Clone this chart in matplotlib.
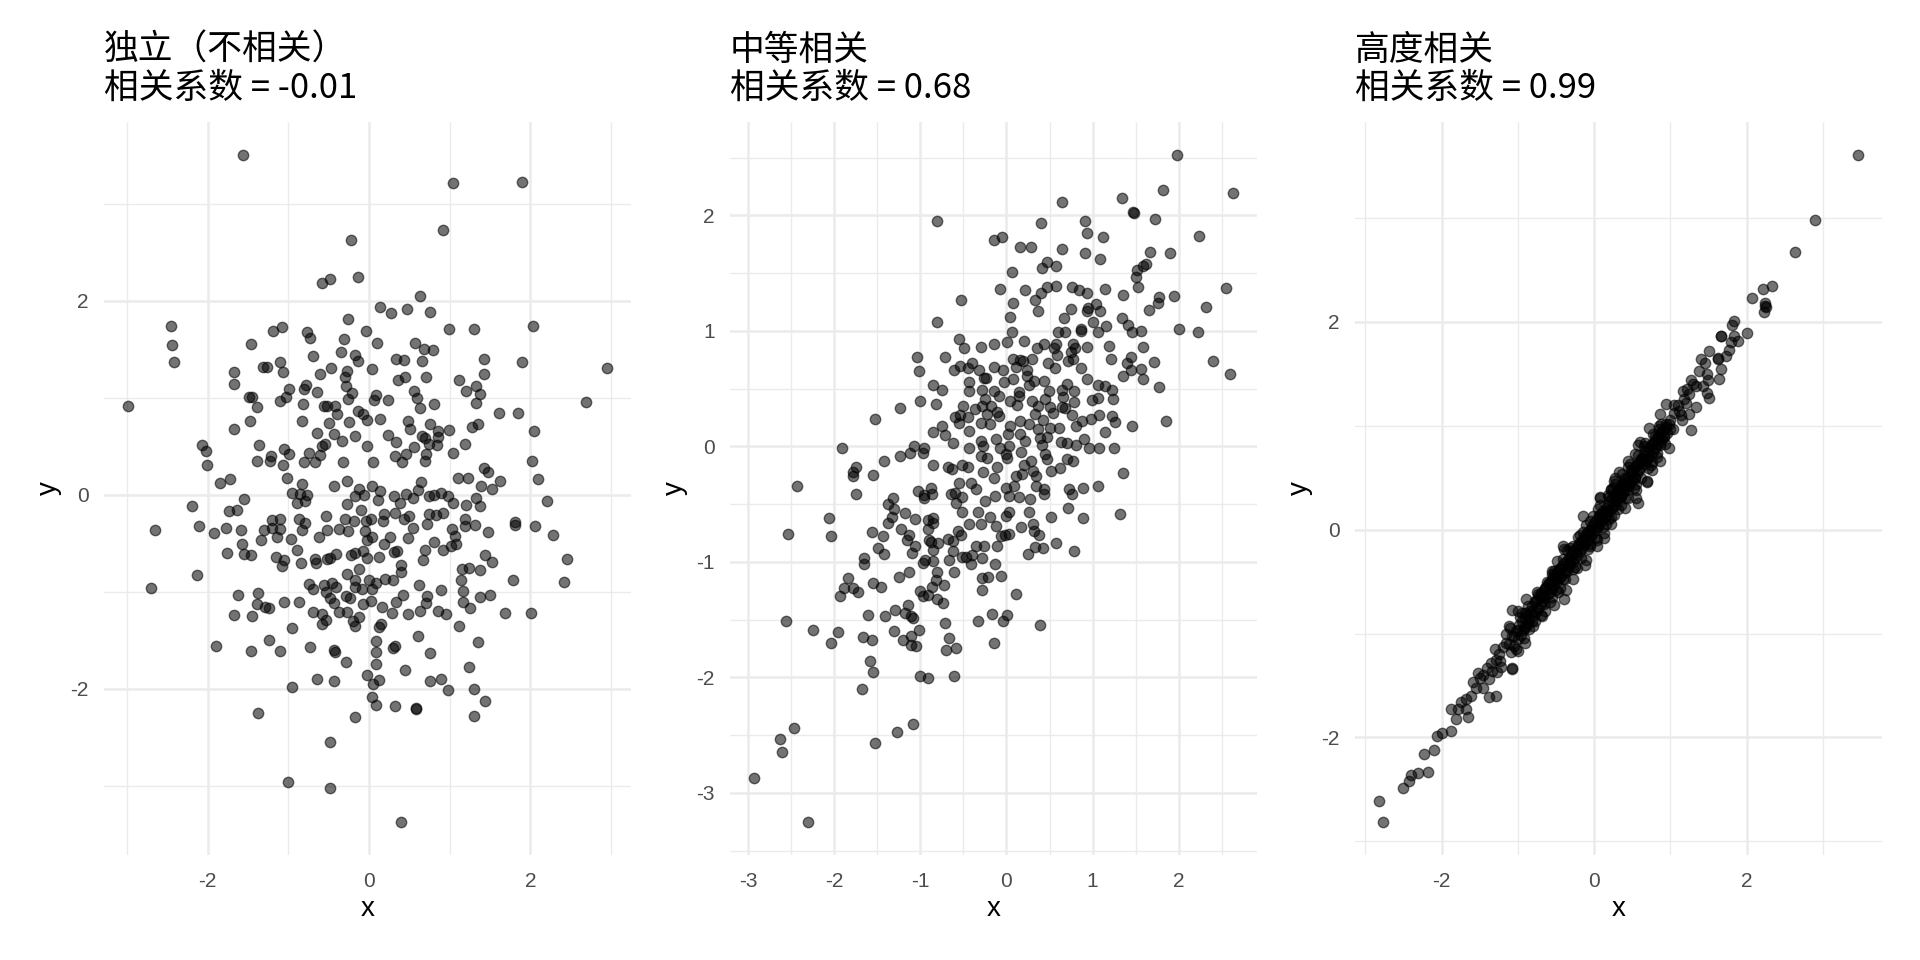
import numpy as np
import matplotlib.pyplot as plt

# Titulos y coeficientes de cada panel
titulos = ["独立（不相关）", "中等相关", "高度相关"]
coefs = ["-0.01", "0.68", "0.99"]

# Panel 1: independiente (x, y)
puntos_indep = [
    (-1.56, 3.50), (1.04, 3.21), (1.89, 3.23), (0.92, 2.73), (-0.22, 2.63), (-0.58, 2.18),
    (-0.48, 2.23), (-0.14, 2.25), (0.63, 2.05), (0.14, 1.94), (0.27, 1.87), (0.47, 1.92),
    (0.76, 1.88), (-0.26, 1.81), (-2.46, 1.74), (-2.44, 1.54), (-2.42, 1.37), (-2.99, 0.92),
    (-1.19, 1.69), (-1.08, 1.73), (-0.77, 1.68), (-0.73, 1.62), (-0.04, 1.69), (0.99, 1.71),
    (1.30, 1.71), (2.03, 1.74), (-1.46, 1.55), (-0.31, 1.61), (0.10, 1.57), (0.57, 1.57),
    (0.68, 1.50), (0.79, 1.49), (-0.35, 1.47), (-0.18, 1.44), (-0.14, 1.38), (-0.70, 1.43),
    (0.65, 1.38), (0.33, 1.40), (0.43, 1.39), (1.43, 1.40), (1.89, 1.37), (2.95, 1.31),
    (-1.11, 1.37), (-1.67, 1.27), (-1.31, 1.32), (-1.27, 1.32), (-1.07, 1.27), (-0.61, 1.25),
    (-0.47, 1.31), (-0.27, 1.28), (0.04, 1.30), (-0.30, 1.21), (0.36, 1.18), (0.44, 1.21),
    (0.71, 1.21), (1.12, 1.18), (1.42, 1.25), (-1.67, 1.14), (-0.78, 1.13), (-0.81, 1.09),
    (-0.99, 1.09), (-0.64, 1.06), (-0.29, 1.12), (-0.21, 1.05), (0.56, 1.07), (1.20, 1.07),
    (1.32, 1.12), (1.37, 1.04), (-1.49, 1.01), (-1.45, 1.01), (-1.03, 1.01), (-1.10, 0.97),
    (-1.39, 0.91), (-0.82, 0.94), (-0.56, 0.92), (-0.52, 0.92), (-0.42, 0.92), (-0.26, 0.99),
    (0.06, 0.98), (0.09, 1.03), (0.23, 0.98), (0.59, 1.00), (0.63, 0.89), (0.81, 0.94),
    (1.33, 0.95), (1.61, 0.84), (1.84, 0.84), (2.69, 0.96), (-1.48, 0.76), (-1.67, 0.68),
    (-0.83, 0.76), (-0.40, 0.83), (-0.14, 0.86), (-0.08, 0.83), (-0.03, 0.77), (0.14, 0.78),
    (-0.50, 0.74), (-0.25, 0.75), (0.48, 0.76), (0.51, 0.68), (0.75, 0.73), (0.86, 0.66),
    (0.99, 0.67), (1.28, 0.70), (1.35, 0.73), (2.04, 0.66), (-0.65, 0.64), (-0.43, 0.63),
    (-0.17, 0.61), (0.24, 0.62), (0.65, 0.61), (0.69, 0.59), (0.86, 0.60), (-2.07, 0.51),
    (-2.02, 0.45), (-2.01, 0.31), (-1.37, 0.51), (-1.05, 0.47), (-0.74, 0.43), (-0.58, 0.50),
    (-0.55, 0.52), (-0.34, 0.55), (-0.03, 0.50), (0.33, 0.54), (0.56, 0.49), (0.74, 0.52),
    (0.84, 0.51), (1.04, 0.43), (1.19, 0.52), (2.02, 0.35), (-1.39, 0.35), (-1.23, 0.35),
    (-1.22, 0.40), (-0.99, 0.42), (-0.81, 0.34), (-0.67, 0.34), (-0.61, 0.41), (-0.32, 0.34),
    (0.05, 0.34), (0.32, 0.40), (0.41, 0.34), (0.46, 0.42), (0.70, 0.42), (0.69, 0.35),
    (1.43, 0.28), (1.47, 0.23), (-1.07, 0.31),
    (-1.85, 0.12), (-1.72, 0.16), (-1.02, 0.17), (-0.95, 0.02), (-0.86, 0.01), (-0.77, 0.00),
    (-0.79, -0.06), (-0.83, 0.11), (-0.89, -0.08), (-0.43, 0.09), (-0.28, 0.14), (-0.27, -0.09),
    (-0.12, 0.06), (-0.17, -0.01), (-0.06, 0.00), (0.04, 0.09), (0.11, -0.05), (0.14, 0.04),
    (0.31, -0.01), (0.38, -0.08), (0.46, 0.01), (0.55, -0.03), (0.61, 0.05), (0.64, 0.13),
    (0.74, -0.01), (0.81, 0.00), (0.89, 0.02), (0.98, -0.01), (1.04, -0.08), (1.10, 0.17),
    (1.23, 0.17), (1.20, -0.10), (1.32, -0.03), (1.39, 0.09), (1.52, 0.06), (1.38, -0.12),
    (1.62, 0.14), (2.09, 0.16), (2.20, -0.06), (-1.55, -0.04), (-2.19, -0.12), (-2.65, -0.36),
    (-2.70, -0.96), (-2.11, -0.32), (-1.92, -0.39), (-1.78, -0.34), (-1.74, -0.17), (-1.64, -0.16),
    (-1.59, -0.36), (-1.57, -0.51), (-1.76, -0.60), (-1.55, -0.61), (-1.47, -0.62), (-2.13, -0.83),
    (-1.34, -0.47), (-1.30, -0.36), (-1.20, -0.26), (-1.11, -0.25), (-1.20, -0.34), (-1.11, -0.35),
    (-1.14, -0.43), (-0.97, -0.46), (-0.87, -0.25), (-0.80, -0.29), (-0.83, -0.36), (-0.89, -0.57),
    (-1.16, -0.64), (-1.08, -0.73), (-1.05, -0.67), (-0.85, -0.70), (-0.67, -0.66), (-0.66, -0.70),
    (-0.62, -0.43), (-0.54, -0.22), (-0.52, -0.36), (-0.52, -0.66), (-0.48, -0.65), (-0.41, -0.61),
    (-0.37, -0.35), (-0.30, -0.25), (-0.26, -0.37), (-0.19, -0.27), (-0.10, -0.16), (-0.04, -0.27),
    (0.02, -0.25), (-0.05, -0.37), (0.04, -0.44), (-0.03, -0.47), (-0.23, -0.62), (-0.17, -0.60),
    (-0.07, -0.58), (-0.03, -0.65), (0.12, -0.64), (0.17, -0.27), (0.19, -0.20), (0.32, -0.19),
    (0.26, -0.43), (0.18, -0.51), (0.31, -0.59), (0.35, -0.58), (0.43, -0.25), (0.49, -0.22),
    (0.54, -0.34), (0.48, -0.45), (0.72, -0.30), (0.74, -0.20), (0.83, -0.21), (0.92, -0.19),
    (1.03, -0.35), (1.07, -0.42), (1.08, -0.51), (1.01, -0.53), (0.81, -0.49), (0.69, -0.57),
    (0.67, -0.67), (0.91, -0.57), (1.19, -0.25), (1.19, -0.32), (1.31, -0.31), (1.47, -0.38),
    (1.81, -0.28), (1.81, -0.31), (2.06, -0.32), (2.28, -0.41), (1.44, -0.62), (1.52, -0.69),
    (2.45, -0.66), (2.42, -0.90), (1.78, -0.88), (1.38, -0.78), (1.24, -0.75), (1.15, -0.76),
    (1.14, -0.88), (1.17, -0.99), (1.16, -1.10), (1.25, -1.17), (1.37, -1.05), (1.50, -1.03),
    (1.69, -1.22), (2.01, -1.22), (0.40, -0.72), (0.40, -0.80), (0.30, -0.88), (0.20, -0.87),
    (0.09, -0.91), (0.00, -0.88), (-0.12, -0.77), (-0.27, -0.82), (-0.17, -0.88), (-0.09, -0.97),
    (0.04, -0.97), (-0.17, -0.95), (-0.41, -0.95), (-0.46, -0.91), (-0.56, -0.93), (-0.74, -0.92),
    (-0.70, -0.97), (-0.53, -1.00), (-0.48, -1.06), (-0.43, -1.12), (-0.29, -1.04), (-0.24, -1.06),
    (-0.08, -1.13), (0.02, -1.09), (0.16, -1.16), (0.33, -1.11), (0.42, -1.03), (0.62, -0.93),
    (0.72, -1.04), (0.70, -1.12), (0.89, -0.98), (0.63, -1.20), (0.86, -1.20), (0.95, -1.23),
    (1.11, -1.35), (0.48, -1.23), (0.28, -1.22), (-0.37, -1.21), (-0.27, -1.21), (-0.12, -1.26),
    (-0.20, -1.30), (-0.17, -1.35), (0.12, -1.36), (0.15, -1.33), (-0.70, -1.21), (-0.58, -1.23),
    (-0.53, -1.29), (-0.58, -1.33), (-0.87, -1.11), (-1.05, -1.11), (-0.96, -1.37), (-1.29, -1.16),
    (-1.24, -1.17), (-1.39, -1.13), (-1.38, -1.01), (-1.63, -1.03), (-1.68, -1.24), (-1.45, -1.25),
    (-1.90, -1.56), (-1.46, -1.61), (-1.24, -1.50), (-1.10, -1.61), (-0.73, -1.57), (-0.43, -1.60),
    (-0.42, -1.62), (-0.29, -1.72), (0.08, -1.51), (0.09, -1.62), (0.29, -1.58), (0.32, -1.56),
    (0.08, -1.74), (0.61, -1.46), (0.76, -1.63), (1.35, -1.52), (1.24, -1.78), (0.45, -1.81),
    (-0.03, -1.86), (0.12, -1.91), (0.05, -1.95), (-0.64, -1.90), (-0.44, -1.92), (-0.95, -1.98),
    (0.75, -1.92), (0.89, -1.90), (0.98, -2.01), (1.30, -2.00), (1.44, -2.13), (1.30, -2.28),
    (0.03, -2.08), (0.08, -2.17), (0.32, -2.18), (0.58, -2.20), (0.58, -2.21), (-0.17, -2.29),
    (-1.38, -2.25), (-0.49, -2.55), (-1.00, -2.96), (-0.48, -3.02), (0.39, -3.37),
]

# Panel 2: correlacion media
puntos_medio = [
    (1.98, 2.52), (1.82, 2.22), (2.63, 2.19), (1.34, 2.15), (0.65, 2.12), (1.47, 2.03),
    (1.48, 2.02), (1.72, 1.97), (-0.80, 1.95), (0.40, 1.93), (0.91, 1.95), (0.94, 1.85),
    (1.12, 1.81), (2.24, 1.82), (-0.14, 1.79), (-0.05, 1.81), (0.16, 1.73), (0.29, 1.73),
    (0.64, 1.71), (0.91, 1.67), (1.09, 1.62), (1.67, 1.68), (1.90, 1.67), (0.47, 1.60),
    (0.41, 1.54), (0.58, 1.56), (1.59, 1.56), (1.62, 1.58), (1.52, 1.53), (1.50, 1.47),
    (1.53, 1.38), (0.07, 1.51), (-0.07, 1.36), (0.21, 1.35), (0.40, 1.33), (0.47, 1.38),
    (0.57, 1.39), (0.76, 1.38), (0.84, 1.35), (0.93, 1.33), (1.14, 1.36), (1.35, 1.31),
    (1.77, 1.29), (1.76, 1.24), (1.94, 1.30), (2.55, 1.37), (-0.53, 1.27), (0.08, 1.24),
    (0.33, 1.27), (0.37, 1.17), (0.75, 1.19), (0.95, 1.20), (1.04, 1.23), (0.94, 1.17),
    (1.09, 1.17), (1.65, 1.18), (2.32, 1.21), (0.04, 1.12), (0.67, 1.11), (1.00, 1.08),
    (1.34, 1.11), (1.41, 1.05), (-0.80, 1.08), (1.16, 1.04), (0.87, 1.02), (0.86, 1.00),
    (0.60, 0.99), (0.68, 0.99), (0.06, 0.99), (1.06, 0.99), (1.46, 0.99), (1.56, 1.00),
    (2.00, 1.02), (2.22, 0.99), (-0.55, 0.93), (-0.49, 0.85), (-0.29, 0.86), (-0.15, 0.89),
    (0.01, 0.90), (0.20, 0.91), (0.44, 0.89), (0.58, 0.89), (0.77, 0.89), (0.80, 0.85),
    (0.55, 0.85), (0.36, 0.85), (0.94, 0.86), (1.19, 0.87), (1.59, 0.86), (-1.04, 0.77),
    (-0.71, 0.77), (0.59, 0.79), (0.75, 0.82), (0.77, 0.76), (0.72, 0.74), (0.08, 0.76),
    (0.16, 0.75), (0.19, 0.74), (0.30, 0.76), (0.48, 0.72), (0.56, 0.68), (1.21, 0.76),
    (1.44, 0.77), (1.40, 0.72), (1.44, 0.66), (1.56, 0.67), (1.71, 0.73), (2.40, 0.74),
    (2.59, 0.63), (-1.01, 0.65), (-0.61, 0.66), (-0.54, 0.70), (-0.40, 0.72), (-0.45, 0.68),
    (-0.32, 0.66), (-0.24, 0.59), (-0.14, 0.69), (-0.04, 0.66), (0.11, 0.69), (0.24, 0.66),
    (0.24, 0.61), (0.87, 0.68), (0.94, 0.58), (1.35, 0.61), (1.59, 0.58), (1.77, 0.51),
    (-0.85, 0.53), (-0.75, 0.49), (-0.43, 0.56), (-0.26, 0.59), (-0.03, 0.56), (0.08, 0.58),
    (0.32, 0.57), (0.44, 0.57), (0.26, 0.53), (1.06, 0.53), (1.14, 0.52), (1.23, 0.49),
    (1.24, 0.41), (-0.44, 0.48), (-0.28, 0.49), (-0.14, 0.48), (-0.09, 0.44), (0.15, 0.47),
    (0.15, 0.44), (0.49, 0.48), (0.70, 0.54), (0.64, 0.49), (0.66, 0.43), (0.78, 0.48),
    (-0.25, 0.41), (0.04, 0.39), (0.12, 0.36), (0.30, 0.39), (0.37, 0.35), (0.45, 0.41),
    (0.79, 0.38), (0.99, 0.40), (1.06, 0.42), (-1.00, 0.39), (-0.82, 0.37), (-1.23, 0.33),
    (-0.50, 0.35), (-0.36, 0.32), (-0.28, 0.35), (-0.18, 0.35), (-0.11, 0.30), (0.51, 0.34),
    (0.64, 0.34), (0.54, 0.29), (0.68, 0.33), (-1.52, 0.24), (-0.60, 0.25), (-0.54, 0.27),
    (-0.45, 0.25), (-0.22, 0.28), (-0.09, 0.26), (0.33, 0.28), (0.43, 0.23), (0.76, 0.27),
    (0.88, 0.22), (0.98, 0.24), (1.08, 0.27), (1.23, 0.26), (1.26, 0.21), (1.46, 0.18),
    (1.85, 0.22), (-0.75, 0.18), (-0.85, 0.12), (-0.71, 0.10), (-0.55, 0.20), (-0.44, 0.13),
    (-0.30, 0.20), (-0.19, 0.19), (0.04, 0.18), (0.16, 0.22), (0.26, 0.19), (0.37, 0.15),
    (0.51, 0.16), (0.61, 0.16), (0.81, 0.18), (1.14, 0.12), (-0.62, 0.03), (-1.07, 0.00),
    (-0.96, -0.01), (-1.91, -0.01), (-0.29, 0.05), (-0.27, 0.00), (-0.12, 0.06), (0.02, 0.11),
    (0.16, 0.11), (0.22, 0.05), (0.39, 0.07), (0.41, 0.01), (0.47, 0.08), (0.63, 0.04),
    (0.70, 0.03), (0.81, 0.01), (0.90, 0.06), (0.96, -0.01), (1.08, -0.01), (1.25, -0.01),
    (-0.44, -0.01), (-0.07, -0.01), (0.03, 0.00), (-1.24, -0.08), (-1.12, -0.06), (-0.97, -0.06),
    (-0.85, -0.16), (-1.42, -0.13), (-1.75, -0.18), (-1.78, -0.22), (-1.78, -0.26), (-1.55, -0.25),
    (-0.68, -0.18), (-0.63, -0.20), (-0.51, -0.16), (-0.45, -0.18), (-0.30, -0.08), (-0.23, -0.10),
    (-0.27, -0.22), (-0.11, -0.18), (0.00, -0.07), (0.01, -0.10), (0.17, -0.05), (0.20, -0.16),
    (0.28, -0.13), (0.18, -0.24), (0.31, -0.21), (0.45, -0.07), (0.47, -0.11), (0.52, -0.21),
    (0.62, -0.19), (0.70, -0.11), (0.77, -0.13), (1.35, -0.23), (-2.43, -0.34), (-0.14, -0.27),
    (0.11, -0.26), (0.34, -0.26),
    (-1.74, -0.41), (-1.03, -0.39), (-0.96, -0.42), (-0.88, -0.36), (-0.86, -0.41), (-0.96, -0.45),
    (-0.64, -0.41), (-0.60, -0.40), (-0.55, -0.32), (-0.51, -0.44), (-0.41, -0.32), (-0.35, -0.37),
    (-0.58, -0.49), (-0.25, -0.47), (-0.13, -0.43), (0.00, -0.36), (0.03, -0.43), (0.09, -0.34),
    (0.15, -0.44), (0.27, -0.46), (0.34, -0.34), (0.44, -0.37), (0.44, -0.41), (0.73, -0.37),
    (0.76, -0.41), (0.89, -0.36), (1.06, -0.34), (-1.37, -0.50), (-1.32, -0.45), (-1.31, -0.54),
    (-2.06, -0.62), (-2.54, -0.76), (-2.04, -0.78), (-1.33, -0.61), (-1.38, -0.66), (-1.18, -0.58),
    (-1.06, -0.63), (-0.91, -0.64), (-0.85, -0.62), (-0.85, -0.66), (-0.51, -0.57), (-0.33, -0.57),
    (-0.30, -0.67), (-0.19, -0.61), (-0.12, -0.69), (-0.01, -0.60), (0.03, -0.57), (-0.43, -0.67),
    (0.17, -0.70), (0.26, -0.57), (0.31, -0.67), (0.32, -0.73), (0.38, -0.77), (0.52, -0.61),
    (0.71, -0.53), (0.89, -0.62), (1.32, -0.59), (-1.56, -0.74), (-1.43, -0.78), (-1.49, -0.88),
    (-1.42, -0.93), (-1.22, -0.72), (-1.13, -0.77), (-1.15, -0.81), (-1.06, -0.86), (-1.10, -0.92),
    (-0.91, -0.72), (-0.90, -0.81), (-0.87, -0.83), (-0.79, -0.84), (-0.85, -0.90), (-0.68, -0.80),
    (-0.62, -0.82), (-0.56, -0.73), (-0.53, -0.77), (-0.62, -0.91), (-0.95, -0.98), (-0.97, -1.01),
    (-0.85, -0.99), (-0.67, -0.98), (-0.52, -0.96), (-0.47, -0.96), (-0.40, -0.94), (-0.41, -1.02),
    (-0.35, -0.86), (-0.26, -0.86), (-0.28, -0.97), (-0.11, -0.86), (-0.06, -0.78), (-0.02, -0.77),
    (0.03, -0.76), (0.25, -0.93), (0.33, -0.87), (0.43, -0.88), (0.58, -0.84), (0.79, -0.91),
    (-1.65, -0.97), (-1.65, -1.02), (-1.84, -1.14), (-1.89, -1.23), (-1.93, -1.30), (-1.78, -1.23),
    (-1.72, -1.26), (-1.55, -1.18), (-1.46, -1.22), (-1.25, -1.13), (-1.13, -1.09), (-1.00, -1.25),
    (-0.97, -1.30), (-0.91, -1.29), (-0.86, -1.22), (-0.82, -1.16), (-0.80, -1.09), (-0.73, -1.20),
    (-0.81, -1.32), (-0.74, -1.36), (-0.61, -1.09), (-0.28, -1.14), (-0.21, -1.13), (-0.28, -1.24),
    (-0.13, -1.02), (-0.06, -1.12), (0.11, -1.28), (-1.61, -1.46), (-1.41, -1.47), (-1.29, -1.42),
    (-1.18, -1.44), (-1.14, -1.37), (-1.11, -1.47), (-1.08, -1.49), (-2.56, -1.51), (-2.24, -1.59),
    (-1.96, -1.61), (-2.04, -1.70), (-1.66, -1.65), (-1.56, -1.68), (-1.31, -1.60), (-1.20, -1.68),
    (-1.11, -1.64), (-1.02, -1.59), (-1.11, -1.72), (-1.05, -1.73), (-0.71, -1.53), (-0.67, -1.66),
    (-0.70, -1.76), (-0.58, -1.75), (-0.33, -1.51), (-0.17, -1.45), (-0.04, -1.51), (0.01, -1.46),
    (-0.14, -1.70), (0.39, -1.55), (-1.58, -1.86), (-1.55, -1.95), (-1.00, -1.99), (-0.91, -2.01),
    (-0.61, -1.99), (-1.68, -2.10), (-1.09, -2.40), (-1.27, -2.47), (-1.52, -2.57), (-2.46, -2.44),
    (-2.63, -2.53), (-2.60, -2.65), (-2.93, -2.87), (-2.30, -3.25),
]

# Panel 3: correlacion alta
puntos_alto = [
    (3.46, 3.60), (2.90, 2.98), (2.63, 2.67), (2.33, 2.34), (2.22, 2.31), (2.07, 2.23),
    (2.24, 2.18), (2.24, 2.15), (2.25, 2.14), (2.23, 2.09), (1.84, 2.01), (1.81, 1.97),
    (2.00, 1.89), (1.66, 1.86), (1.67, 1.86), (1.84, 1.86), (1.88, 1.81), (1.79, 1.80),
    (1.51, 1.72), (1.77, 1.73), (1.73, 1.67), (1.62, 1.65), (1.63, 1.64), (1.40, 1.64),
    (1.45, 1.60), (1.66, 1.54), (1.64, 1.45), (1.37, 1.53), (1.48, 1.50), (1.49, 1.44),
    (1.27, 1.44), (1.34, 1.38), (1.43, 1.38), (1.16, 1.33), (1.25, 1.30), (1.51, 1.27),
    (1.48, 1.31), (1.18, 1.26), (0.94, 1.21), (1.05, 1.20), (1.33, 1.18), (1.11, 1.14),
    (0.87, 1.11), (1.14, 1.10), (1.25, 1.11), (1.00, 1.05), (0.94, 1.02), (1.27, 0.96),
    (0.72, 0.98), (0.85, 0.97), (1.03, 0.97), (0.80, 0.90), (0.91, 0.89), (0.60, 0.84),
    (0.76, 0.82), (0.87, 0.81), (0.98, 0.78), (0.58, 0.81), (0.67, 0.76), (0.82, 0.74),
    (0.53, 0.73), (0.44, 0.66), (0.62, 0.68), (0.76, 0.65), (0.87, 0.66), (0.55, 0.62),
    (0.76, 0.57), (0.69, 0.47), (0.49, 0.57), (0.33, 0.55), (0.28, 0.50), (0.40, 0.50),
    (0.53, 0.50), (0.26, 0.47), (0.37, 0.44), (0.55, 0.38), (0.22, 0.39), (0.31, 0.38),
    (0.44, 0.38), (0.08, 0.31), (0.19, 0.31), (0.35, 0.31), (0.55, 0.30),
    (0.69, 0.46), (0.57, 0.26), (0.40, 0.42), (0.35, 0.34), (0.44, 0.30), (0.28, 0.24),
    (0.40, 0.21), (0.22, 0.38), (0.08, 0.30), (0.26, 0.14), (0.19, 0.10), (0.22, 0.05),
    (0.15, 0.18), (0.06, 0.14), (-0.15, 0.13), (-0.05, 0.08), (0.04, 0.02), (0.13, -0.03),
    (0.13, -0.08), (-0.08, -0.02), (-0.19, -0.05), (0.04, -0.10), (0.04, -0.16), (-0.05, -0.14),
    (-0.17, -0.13), (-0.28, -0.16), (-0.41, -0.16), (-0.39, -0.19), (-0.23, -0.22), (-0.10, -0.29),
    (-0.12, -0.34), (-0.32, -0.29), (-0.48, -0.30), (-0.23, -0.37), (-0.35, -0.40), (-0.46, -0.38),
    (-0.55, -0.43), (-0.28, -0.48), (-0.41, -0.48), (-0.50, -0.48), (-0.59, -0.51), (-0.37, -0.58),
    (-0.50, -0.58), (-0.64, -0.56), (-0.39, -0.67), (-0.55, -0.65), (-0.68, -0.64), (-0.52, -0.73),
    (-0.66, -0.72), (-0.77, -0.69), (-0.89, -0.67), (-0.68, -0.83), (-0.80, -0.78), (-0.91, -0.80),
    (-1.07, -0.77), (-1.00, -0.78), (-0.77, -0.88), (-0.91, -0.93), (-1.11, -0.93), (-1.00, -0.97),
    (-0.91, -1.09), (-1.05, -1.02), (-1.16, -1.09), (-1.20, -1.13), (-1.00, -1.17), (-1.09, -1.18),
    (-1.29, -1.25), (-1.23, -1.26), (-1.07, -1.33), (-1.08, -1.34), (-1.27, -1.37), (-1.34, -1.36),
    (-1.38, -1.44), (-1.50, -1.43), (-1.59, -1.47), (-1.45, -1.52), (-1.28, -1.60), (-1.38, -1.61),
    (-1.61, -1.60), (-1.68, -1.63), (-1.74, -1.66), (-1.79, -1.73), (-1.88, -1.73), (-1.68, -1.73),
    (-1.81, -1.82), (-1.65, -1.80), (-1.88, -1.94), (-2.00, -1.96), (-2.06, -1.99), (-2.10, -2.12),
    (-2.23, -2.16), (-2.18, -2.33), (-2.31, -2.34), (-2.40, -2.36), (-2.42, -2.42), (-2.50, -2.49),
    (-2.82, -2.61), (-2.77, -2.81),
    # nucleo denso de la banda
    (-1.12, -1.10), (-1.08, -1.02), (-1.05, -1.12), (-1.03, -0.98), (-1.00, -1.05), (-0.98, -0.92),
    (-0.96, -1.01), (-0.94, -0.88), (-0.93, -0.97), (-0.91, -0.85), (-0.90, -0.95), (-0.88, -0.82),
    (-0.87, -0.91), (-0.85, -0.86), (-0.84, -0.78), (-0.82, -0.88), (-0.81, -0.74), (-0.79, -0.82),
    (-0.78, -0.70), (-0.76, -0.79), (-0.75, -0.68), (-0.73, -0.76), (-0.72, -0.64), (-0.70, -0.72),
    (-0.69, -0.61), (-0.67, -0.69), (-0.66, -0.58), (-0.64, -0.66), (-0.63, -0.55), (-0.61, -0.62),
    (-0.60, -0.52), (-0.58, -0.60), (-0.57, -0.49), (-0.55, -0.57), (-0.54, -0.46), (-0.52, -0.53),
    (-0.51, -0.44), (-0.49, -0.50), (-0.48, -0.41), (-0.46, -0.47), (-0.45, -0.38), (-0.43, -0.45),
    (-0.42, -0.35), (-0.40, -0.42), (-0.39, -0.32), (-0.37, -0.39), (-0.36, -0.30), (-0.34, -0.36),
    (-0.33, -0.27), (-0.31, -0.33), (-0.30, -0.24), (-0.28, -0.30), (-0.27, -0.21), (-0.25, -0.27),
    (-0.24, -0.18), (-0.22, -0.24), (-0.21, -0.15), (-0.19, -0.21), (-0.18, -0.12), (-0.16, -0.18),
    (-0.15, -0.09), (-0.13, -0.15), (-0.12, -0.06), (-0.10, -0.12), (-0.09, -0.03), (-0.07, -0.09),
    (-0.06, 0.00), (-0.04, -0.06), (-0.03, 0.03), (-0.01, -0.03), (0.00, 0.06), (0.02, 0.00),
    (0.03, 0.09), (0.05, 0.03), (0.06, 0.12), (0.08, 0.06), (0.09, 0.15), (0.11, 0.09),
    (0.12, 0.18), (0.14, 0.12), (0.15, 0.21), (0.17, 0.15), (0.18, 0.24), (0.20, 0.18),
    (0.21, 0.27), (0.23, 0.21), (0.24, 0.30), (0.26, 0.24), (0.27, 0.33), (0.29, 0.27),
    (0.30, 0.36), (0.32, 0.30), (0.33, 0.39), (0.35, 0.33), (0.36, 0.42), (0.38, 0.36),
    (0.39, 0.45), (0.41, 0.39), (0.42, 0.48), (0.44, 0.42), (0.45, 0.51), (0.47, 0.45),
    (0.48, 0.54), (0.50, 0.48), (0.51, 0.57), (0.53, 0.51), (0.54, 0.60), (0.56, 0.54),
    (0.57, 0.63), (0.59, 0.57), (0.60, 0.66), (0.62, 0.60), (0.63, 0.69), (0.65, 0.63),
    (0.66, 0.72), (0.68, 0.66), (0.69, 0.75), (0.71, 0.69), (0.72, 0.78), (0.74, 0.72),
    (0.75, 0.81), (0.77, 0.75), (0.78, 0.84), (0.80, 0.78), (0.81, 0.87), (0.83, 0.81),
    (0.84, 0.90), (0.86, 0.84), (0.87, 0.93), (0.89, 0.87), (0.90, 0.96), (0.92, 0.90),
    (0.94, 0.99), (0.96, 0.93), (0.98, 1.02), (1.00, 0.97),
    (-0.95, -0.80), (-0.85, -0.96), (-0.75, -0.60), (-0.65, -0.78), (-0.55, -0.40), (-0.45, -0.56),
    (-0.35, -0.20), (-0.25, -0.36), (-0.15, -0.02), (-0.05, -0.16), (0.05, 0.20), (0.15, 0.05),
    (0.25, 0.40), (0.35, 0.24), (0.45, 0.60), (0.55, 0.44), (0.65, 0.80), (0.75, 0.62),
    (0.85, 1.00), (-1.15, -1.00), (-1.25, -1.20), (-1.35, -1.28), (-1.45, -1.40), (1.10, 1.20),
    (1.20, 1.22), (1.30, 1.40),
    (-1.10, -0.95), (-1.02, -1.15), (-0.97, -0.84), (-0.92, -1.04), (-0.86, -0.74), (-0.80, -0.93),
    (-0.74, -0.62), (-0.70, -0.82), (-0.62, -0.50), (-0.58, -0.70), (-0.52, -0.40), (-0.47, -0.60),
    (-0.41, -0.28), (-0.38, -0.48), (-0.32, -0.18), (-0.27, -0.38), (-0.21, -0.07), (-0.17, -0.27),
    (-0.11, 0.04), (-0.08, -0.19), (-0.02, 0.13), (0.03, -0.08), (0.08, 0.24), (0.12, 0.02),
    (0.18, 0.33), (0.22, 0.12), (0.28, 0.44), (0.31, 0.20), (0.37, 0.53), (0.41, 0.30),
    (0.47, 0.63), (0.52, 0.40), (0.57, 0.72), (0.61, 0.50), (0.67, 0.83), (0.71, 0.59),
    (0.77, 0.92), (0.82, 0.70), (0.88, 1.02), (0.93, 0.82), (-1.30, -1.15), (-1.40, -1.33),
    (-1.22, -1.32), (-1.52, -1.38), (-1.55, -1.52), (1.05, 1.12), (1.15, 1.05), (1.22, 1.35),
]

# Marcas de los ejes (mayores y menores) por panel
ticks_x = [[-2, 0, 2], [-3, -2, -1, 0, 1, 2], [-2, 0, 2]]
ticks_y = [[-2, 0, 2], [-3, -2, -1, 0, 1, 2], [-2, 0, 2]]
minor_x = [[-3, -1, 1, 3], [-2.5, -1.5, -0.5, 0.5, 1.5, 2.5], [-3, -1, 1, 3]]
minor_y = [[-3, -1, 1, 3], [-3.5, -2.5, -1.5, -0.5, 0.5, 1.5, 2.5], [-3, -1, 1, 3]]

datos = [puntos_indep, puntos_medio, puntos_alto]

plt.rcParams["font.family"] = ["Liberation Sans", "Noto Sans CJK SC"]

fig = plt.figure(figsize=(19.2, 9.6), dpi=100)
izquierdas = [104, 730, 1355]

for i in range(3):
    ax = fig.add_axes([izquierdas[i] / 1920, 105 / 960, 527 / 1920, 733 / 960])
    pts = np.array(datos[i])
    xs, ys = pts[:, 0], pts[:, 1]

    # Expansion de 5% como ggplot
    rx = xs.max() - xs.min()
    ry = ys.max() - ys.min()
    ax.set_xlim(xs.min() - 0.05 * rx, xs.max() + 0.05 * rx)
    ax.set_ylim(ys.min() - 0.05 * ry, ys.max() + 0.05 * ry)

    ax.scatter(xs, ys, s=56, facecolor="black", edgecolor="black",
               linewidths=1.0, alpha=0.55, zorder=3)

    ax.set_xticks(ticks_x[i])
    ax.set_xticklabels([str(t) for t in ticks_x[i]])
    ax.set_yticks(ticks_y[i])
    ax.set_yticklabels([str(t) for t in ticks_y[i]])
    ax.set_xticks(minor_x[i], minor=True)
    ax.set_yticks(minor_y[i], minor=True)

    ax.grid(which="major", color="#EBEBEB", linewidth=1.8)
    ax.grid(which="minor", color="#EBEBEB", linewidth=1.0)
    ax.set_axisbelow(True)
    for s in ax.spines.values():
        s.set_visible(False)
    ax.tick_params(which="both", length=0)
    ax.tick_params(axis="x", pad=12, labelsize=15, labelcolor="#4D4D4D")
    ax.tick_params(axis="y", pad=11, labelsize=15, labelcolor="#4D4D4D")

    ax.set_xlabel("x", fontsize=20, labelpad=4)
    ax.set_ylabel("y", fontsize=20, labelpad=6)

    ax.annotate(f"{titulos[i]}\n相关系数 = {coefs[i]}", xy=(0, 1), xycoords="axes fraction",
                xytext=(0, 12), textcoords="offset points", ha="left", va="bottom",
                fontsize=25, linespacing=1.1, family=["Noto Sans CJK SC", "DejaVu Sans"])

fig.savefig("out.png", dpi=100, facecolor="white")
